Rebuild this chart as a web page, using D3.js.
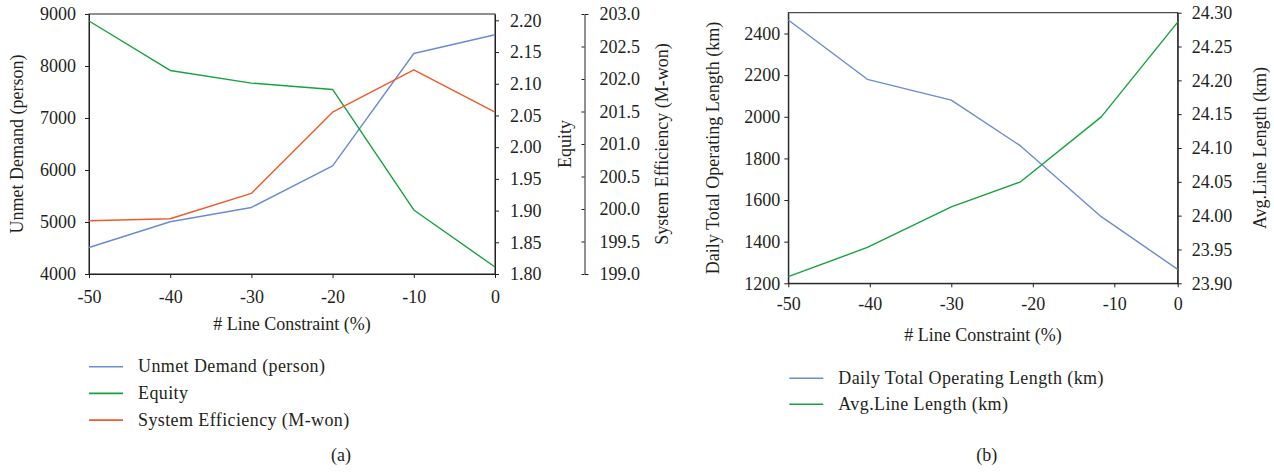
<!DOCTYPE html>
<html>
<head>
<meta charset="utf-8">
<script src="https://cdn.jsdelivr.net/npm/d3@7"></script>
<style>
  html, body { margin: 0; padding: 0; background: #fff; }
  svg { display: block; font-family: "Liberation Serif", "Times New Roman", serif; }
  .axis text { font-size: 18px; fill: #231f20; font-family: "Liberation Serif", serif; }
  .axis path, .axis line { stroke: #231f20; stroke-width: 1; }
  .lbl { font-size: 18px; fill: #231f20; }
  .leg { letter-spacing: 0.4px; }
</style>
</head>
<body>
<svg id="chart" width="1274" height="472"></svg>
<script>
// ---- Panel (a): effect of the line constraint on demand, equity and efficiency
const constraintA = [-50, -40, -30, -20, -10, 0];
const unmetDemand = [4510, 5005, 5280, 6080, 8240, 8600];
const equity = [2.199, 2.121, 2.101, 2.091, 1.901, 1.811];
const systemEfficiency = [199.82, 199.85, 200.24, 201.49, 202.14, 201.49];

// ---- Panel (b): operating length
const constraintB = [-50, -40.3, -30, -21.5, -11.6, 0];
const dailyOperatingLength = [2465, 2180, 2080, 1860, 1520, 1267];
const avgLineLength = [23.910, 23.953, 24.013, 24.050, 24.146, 24.286];

const xTicks = [-50, -40, -30, -20, -10, 0];
const unmetTicks = [4000, 5000, 6000, 7000, 8000, 9000];
const equityTicks = [1.80, 1.85, 1.90, 1.95, 2.00, 2.05, 2.10, 2.15, 2.20];
const efficiencyTicks = [199.0, 199.5, 200.0, 200.5, 201.0, 201.5, 202.0, 202.5, 203.0];
const lengthTicks = [1200, 1400, 1600, 1800, 2000, 2200, 2400];
const avgTicks = [23.90, 23.95, 24.00, 24.05, 24.10, 24.15, 24.20, 24.25, 24.30];

const COLORS = { blue: "#6b8bd2", green: "#17a23c", orange: "#f05a28" };

// plain hyphen-minus for negative tick labels
const intFmt = d => String(d);

const svg = d3.select("#chart");

function drawLine(g, xs, ys, x, y, color) {
  const line = d3.line().x(d => x(d[0])).y(d => y(d[1]));
  g.append("path")
    .datum(xs.map((v, i) => [v, ys[i]]))
    .attr("d", line)
    .attr("fill", "none")
    .attr("stroke", color)
    .attr("stroke-width", 1.4)
    .attr("stroke-linejoin", "round");
}

function frame(g, x0, x1, y0, y1) {
  g.append("rect")
    .attr("x", x0).attr("y", y0)
    .attr("width", x1 - x0).attr("height", y1 - y0)
    .attr("fill", "none").attr("stroke", "#231f20").attr("stroke-width", 1);
}

function vLabel(text, cx, cy) {
  svg.append("text").attr("class", "lbl")
    .attr("transform", `translate(${cx},${cy}) rotate(-90)`)
    .attr("text-anchor", "middle").attr("dominant-baseline", "central")
    .text(text);
}

function legend(items, x0, y0, step) {
  items.forEach((it, i) => {
    const y = y0 + i * step;
    svg.append("line").attr("x1", x0).attr("x2", x0 + 34)
      .attr("y1", y).attr("y2", y)
      .attr("stroke", it.color).attr("stroke-width", 1.6);
    svg.append("text").attr("class", "lbl leg")
      .attr("x", x0 + 49).attr("y", y).attr("dy", "0.32em")
      .text(it.label);
  });
}

// ===== Panel (a) =====
{
  const L = 89, R = 495, T = 14, B = 274;
  const x = d3.scaleLinear().domain([-50, 0]).range([L, R]);
  const yU = d3.scaleLinear().domain([4000, 9000]).range([B, T]);
  const yE = d3.scaleLinear().domain([1.80, 2.21]).range([B, T]);
  const yS = d3.scaleLinear().domain([199, 203]).range([B, T]);

  const g = svg.append("g");
  frame(g, L, R, T, B);

  g.append("g").attr("class", "axis").attr("transform", `translate(0,${B})`)
    .call(d3.axisBottom(x).tickValues(xTicks).tickFormat(intFmt)
      .tickSizeInner(4).tickSizeOuter(0).tickPadding(12));
  g.append("g").attr("class", "axis").attr("transform", `translate(${L},0)`)
    .call(d3.axisLeft(yU).tickValues(unmetTicks).tickFormat(intFmt)
      .tickSizeInner(4).tickSizeOuter(0).tickPadding(9));
  g.append("g").attr("class", "axis").attr("transform", `translate(${R},0)`)
    .call(d3.axisRight(yE).tickValues(equityTicks).tickFormat(d3.format(".2f"))
      .tickSizeInner(4).tickSizeOuter(0).tickPadding(11));
  g.append("g").attr("class", "axis").attr("transform", `translate(584.5,0)`)
    .call(d3.axisRight(yS).tickValues(efficiencyTicks).tickFormat(d3.format(".1f"))
      .tickSizeInner(-3).tickSizeOuter(4).tickPadding(15));

  drawLine(g, constraintA, unmetDemand, x, yU, COLORS.blue);
  drawLine(g, constraintA, equity, x, yE, COLORS.green);
  drawLine(g, constraintA, systemEfficiency, x, yS, COLORS.orange);

  vLabel("Unmet Demand (person)", 16.5, 144);
  vLabel("Equity", 565, 144);
  vLabel("System Efficiency (M-won)", 662, 144);
  svg.append("text").attr("class", "lbl").attr("x", (L + R) / 2).attr("y", 330)
    .attr("text-anchor", "middle").text("# Line Constraint (%)");

  legend([
    { label: "Unmet Demand (person)", color: COLORS.blue },
    { label: "Equity", color: COLORS.green },
    { label: "System Efficiency (M-won)", color: COLORS.orange }
  ], 89, 366.7, 26.7);

  svg.append("text").attr("class", "lbl").attr("x", 341).attr("y", 455)
    .attr("dy", "0.32em").attr("text-anchor", "middle").text("(a)");
}

// ===== Panel (b) =====
{
  const L = 788.3, R = 1177.7, T = 12.7, B = 283.3;
  const x = d3.scaleLinear().domain([-50, -10, 0]).range([L, 1114.3, R]);
  const yL = d3.scaleLinear().domain([1200, 2500]).range([B, T]);
  const yA = d3.scaleLinear().domain([23.90, 24.30]).range([B, T]);

  const g = svg.append("g");
  frame(g, L, R, T, B);

  g.append("g").attr("class", "axis").attr("transform", `translate(0,${B})`)
    .call(d3.axisBottom(x).tickValues(xTicks).tickFormat(intFmt)
      .tickSizeInner(4).tickSizeOuter(0).tickPadding(10));
  g.append("g").attr("class", "axis").attr("transform", `translate(${L},0)`)
    .call(d3.axisLeft(yL).tickValues(lengthTicks).tickFormat(intFmt)
      .tickSizeInner(4).tickSizeOuter(0).tickPadding(4));
  g.append("g").attr("class", "axis").attr("transform", `translate(${R},0)`)
    .call(d3.axisRight(yA).tickValues(avgTicks).tickFormat(d3.format(".2f"))
      .tickSizeInner(4).tickSizeOuter(0).tickPadding(10));

  drawLine(g, constraintB, dailyOperatingLength, x, yL, COLORS.blue);
  drawLine(g, constraintB, avgLineLength, x, yA, COLORS.green);

  vLabel("Daily Total Operating Length (km)", 713, 148);
  vLabel("Avg.Line Length (km)", 1260, 148);
  svg.append("text").attr("class", "lbl").attr("x", (L + R) / 2).attr("y", 341)
    .attr("text-anchor", "middle").text("# Line Constraint (%)");

  legend([
    { label: "Daily Total Operating Length (km)", color: COLORS.blue },
    { label: "Avg.Line Length (km)", color: COLORS.green }
  ], 789.3, 378.3, 26);

  svg.append("text").attr("class", "lbl").attr("x", 986.7).attr("y", 455)
    .attr("dy", "0.32em").attr("text-anchor", "middle").text("(b)");
}
</script>
</body>
</html>
